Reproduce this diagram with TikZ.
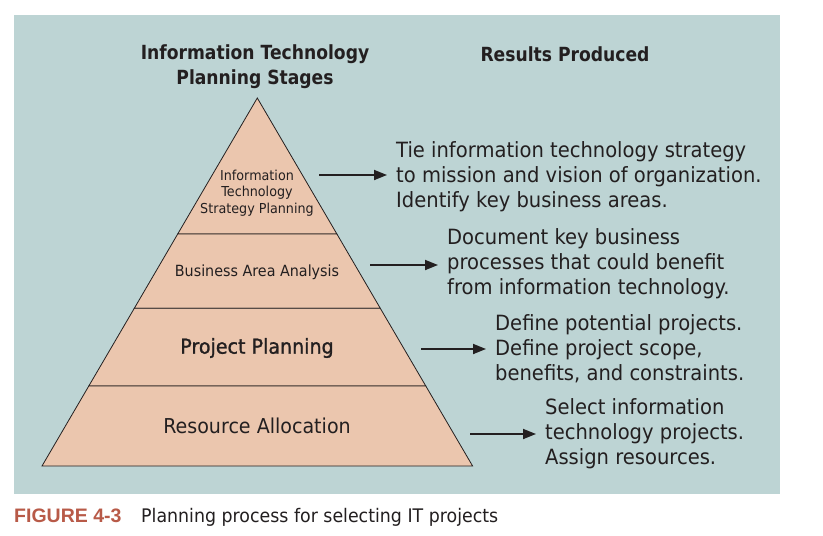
\documentclass[tikz,border=0pt]{standalone}
\usepackage{fontspec}
\setmainfont{DejaVu Sans}[FakeStretch=0.93]
\newfontfamily\headfont{DejaVu Sans Bold}[FakeStretch=0.88]
\newfontfamily\semifont{DejaVu Sans}[FakeStretch=0.93, FakeBold=1.2]
\newfontfamily\figfont{Liberation Sans}
\usetikzlibrary{arrows.meta}
\definecolor{panel}{HTML}{BDD4D4}
\definecolor{peach}{HTML}{EBC6AE}
\definecolor{ink}{HTML}{231F20}
\definecolor{figred}{HTML}{B85A48}
\tikzset{
  layer/.style={fill=peach, draw=ink, line width=0.8pt, line join=miter},
  head/.style={font=\headfont\fontsize{19.5}{25}\selectfont, text=ink, align=center, inner sep=0pt},
  toplbl/.style={font=\fontsize{13.7}{16.5}\selectfont, text=ink, align=center, inner sep=0pt},
  midlbl/.style={font=\fontsize{15.4}{18}\selectfont, text=ink, align=center, inner sep=0pt},
  biglbl/.style={font=\fontsize{20.5}{24}\selectfont, text=ink, align=center, inner sep=0pt},
  result/.style={font=\fontsize{21}{24.8}\selectfont, text=ink, align=left, anchor=west, inner sep=0pt},
  arr/.style={draw=ink, line width=1.8pt, -{Triangle[length=13pt,width=10pt]}, shorten >=9pt}
}
\begin{document}
\begin{tikzpicture}[x=1pt,y=-1pt]
  \useasboundingbox (0,0) rectangle (823,536);
  \fill[white] (0,0) rectangle (823,536);
  \fill[panel] (14,15) rectangle (780,494);

  % pyramid corners
  \coordinate (apex) at (257.3,98);
  \coordinate (l1) at (177.7,234);  \coordinate (r1) at (336.9,234);
  \coordinate (l2) at (134.3,308.3);\coordinate (r2) at (380.3,308.3);
  \coordinate (l3) at (88.8,386);   \coordinate (r3) at (425.8,386);
  \coordinate (l4) at (42,466);     \coordinate (r4) at (472.6,466);

  % pyramid layers, top to bottom
  \path[layer] (apex) -- (r1) -- (l1) -- cycle;
  \path[layer] (l1) -- (r1) -- (r2) -- (l2) -- cycle;
  \path[layer] (l2) -- (r2) -- (r3) -- (l3) -- cycle;
  \path[layer] (l3) -- (r3) -- (r4) -- (l4) -- cycle;

  % column headings
  \node[head] (hstages) at (255,67) {Information Technology\\Planning Stages};
  \node[head] (hresults) at (565,54) {Results Produced};

  % stage labels
  \node[toplbl] (s1) at (257,193) {Information\\Technology\\Strategy Planning};
  \node[midlbl] (s2) at (257,272) {Business Area Analysis};
  \node[biglbl] (s3) at (257,348) {\semifont Project Planning};
  \node[biglbl] (s4) at (257,426) {Resource Allocation};

  % results produced
  \node[result] (t1) at (396,177) {Tie information technology strategy\\to mission and vision of organization.\\Identify key business areas.};
  \node[result] (t2) at (447,264) {Document key business\\processes that could benefit\\from information technology.};
  \node[result] (t3) at (495,349) {Define potential projects.\\Define project scope,\\benefits, and constraints.};
  \node[result] (t4) at (545,434) {Select information\\technology projects.\\Assign resources.};

  % arrows from stages to results
  \coordinate (a1) at (319,175);
  \coordinate (a2) at (370,265);
  \coordinate (a3) at (421,349);
  \coordinate (a4) at (470,434);
  \draw[arr] (a1) -- (a1 -| t1.west);
  \draw[arr] (a2) -- (a2 -| t2.west);
  \draw[arr] (a3) -- (a3 -| t3.west);
  \draw[arr] (a4) -- (a4 -| t4.west);

  % caption
  \node[anchor=base west, inner sep=0pt, text=figred, font=\figfont\fontsize{19.5}{24}\selectfont\bfseries] (fig) at (14,522.7) {FIGURE 4-3};
  \node[anchor=base west, inner sep=0pt, text=ink, font=\fontsize{18.7}{24}\selectfont] (cap) at (141,522.7) {Planning process for selecting IT projects};
\end{tikzpicture}
\end{document}
